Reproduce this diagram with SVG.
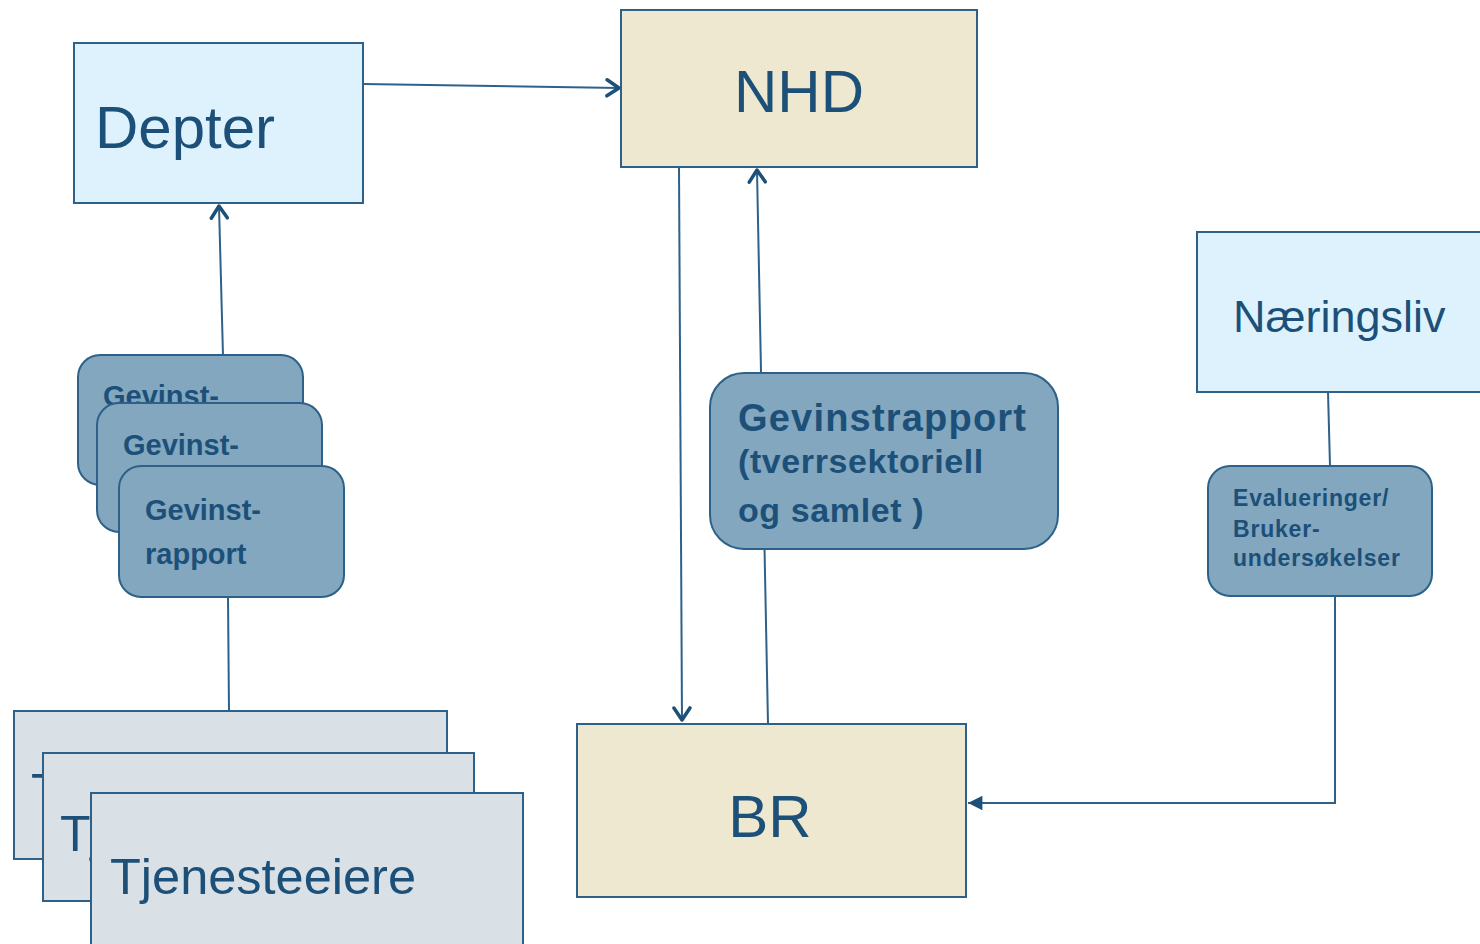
<svg xmlns="http://www.w3.org/2000/svg" width="1480" height="944" viewBox="0 0 1480 944">
<defs>
<style>
.box{stroke:#2e6189;stroke-width:2}
.lb{fill:#ddf2fd}
.tan{fill:#ede8cf}
.grey{fill:#d9e1e6}
.rb{fill:#82a7bf;stroke:#2e6189;stroke-width:2}
.t{font-family:"Liberation Sans",Arial,sans-serif;fill:#1c5078}
.b{font-weight:bold}
.c{fill:none;stroke:#2e6189;stroke-width:2}
</style>
<marker id="chev" viewBox="0 0 20 20" refX="17" refY="10" markerWidth="20" markerHeight="20" markerUnits="userSpaceOnUse" orient="auto">
<path d="M5,2 L17,10 L5,18" fill="none" stroke="#1c5078" stroke-width="3.5" stroke-linecap="round" stroke-linejoin="round"/>
</marker>
<marker id="tri" viewBox="0 0 20 20" refX="18" refY="10" markerWidth="18" markerHeight="18" markerUnits="userSpaceOnUse" orient="auto">
<path d="M2,2 L18,10 L2,18 Z" fill="#1c5078"/>
</marker>
</defs>
<rect width="1480" height="944" fill="#ffffff"/>

<g id="connectors">
<line class="c" x1="363" y1="84" x2="619" y2="88" marker-end="url(#chev)"/>
<line class="c" x1="679" y1="168" x2="682" y2="720" marker-end="url(#chev)"/>
<line class="c" x1="768" y1="724" x2="757" y2="170" marker-end="url(#chev)"/>
<line class="c" x1="223" y1="356" x2="219" y2="206" marker-end="url(#chev)"/>
<line class="c" x1="229" y1="711" x2="228" y2="597"/>
<line class="c" x1="1328" y1="392" x2="1330" y2="466"/>
<path class="c" d="M1335,596 L1335,803 L968,803" marker-end="url(#tri)"/>
</g>

<g id="depter">
<rect class="box lb" x="74" y="43" width="289" height="160"/>
<text class="t" x="95" y="148" font-size="60">Depter</text>
</g>

<g id="nhd">
<rect class="box tan" x="621" y="10" width="356" height="157"/>
<text class="t" x="799" y="112" font-size="60" text-anchor="middle">NHD</text>
</g>

<g id="naeringsliv">
<rect class="box lb" x="1197" y="232" width="290" height="160"/>
<text class="t" x="1233" y="332" font-size="45">Næringsliv</text>
</g>

<g id="evalueringer">
<rect class="rb" x="1208" y="466" width="224" height="130" rx="22"/>
<text class="t b" font-size="23" letter-spacing="0.8"><tspan x="1233" y="506">Evalueringer/</tspan><tspan x="1233" y="537">Bruker-</tspan><tspan x="1233" y="566">undersøkelser</tspan></text>
</g>

<g id="gevinstrapport-samlet">
<rect class="rb" x="710" y="373" width="348" height="176" rx="34"/>
<text class="t b" x="738" y="431" font-size="38" letter-spacing="1.2">Gevinstrapport</text>
<text class="t b" font-size="34" letter-spacing="0.6"><tspan x="738" y="473">(tverrsektoriell</tspan><tspan x="738" y="522">og samlet )</tspan></text>
</g>

<g id="br">
<rect class="box tan" x="577" y="724" width="389" height="173"/>
<text class="t" x="770" y="837" font-size="60" text-anchor="middle">BR</text>
</g>

<g id="gevinst-1">
<rect class="rb" x="78" y="355" width="225" height="130" rx="22"/>
<text class="t b" x="103" y="406" font-size="29">Gevinst-</text>
</g>
<g id="gevinst-2">
<rect class="rb" x="97" y="403" width="225" height="129" rx="22"/>
<text class="t b" x="123" y="455" font-size="29">Gevinst-</text>
</g>
<g id="gevinst-3">
<rect class="rb" x="119" y="466" width="225" height="131" rx="22"/>
<text class="t b" font-size="29"><tspan x="145" y="520">Gevinst-</tspan><tspan x="145" y="564">rapport</tspan></text>
</g>

<g id="tjenesteeiere-1">
<rect class="box grey" x="14" y="711" width="433" height="148"/>
<text class="t" x="31" y="809" font-size="50">Tjenesteeiere</text>
</g>
<g id="tjenesteeiere-2">
<rect class="box grey" x="43" y="753" width="431" height="148"/>
<text class="t" x="60" y="851" font-size="50">Tjenesteeiere</text>
</g>
<g id="tjenesteeiere-3">
<rect class="box grey" x="91" y="793" width="432" height="160"/>
<text class="t" x="110" y="894" font-size="50.5">Tjenesteeiere</text>
</g>
</svg>
